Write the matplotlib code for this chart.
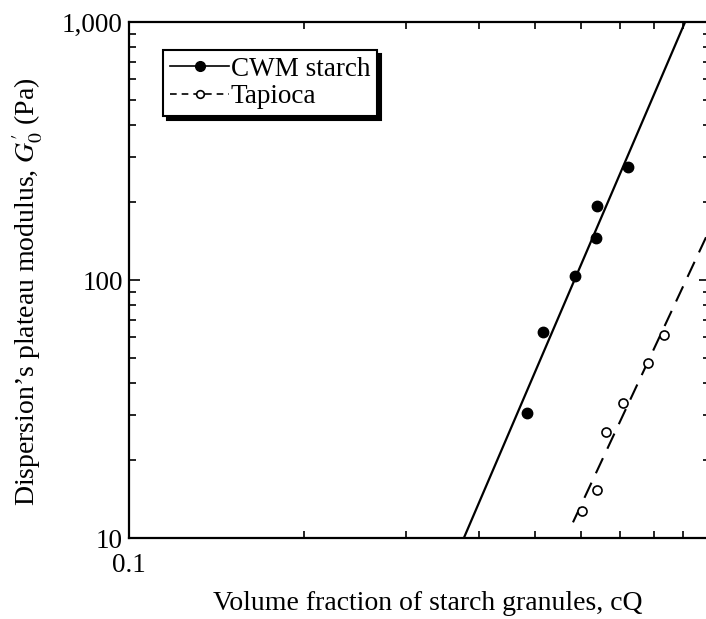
import numpy as np
import matplotlib
matplotlib.use("Agg")
import matplotlib.pyplot as plt
from matplotlib.ticker import FixedLocator, FixedFormatter, LogLocator, NullFormatter

plt.rcParams['font.family'] = ['Liberation Serif', 'DejaVu Serif']
plt.rcParams['mathtext.fontset'] = 'stix'

# Data
cwm_x = [0.484, 0.516, 0.586, 0.637, 0.638, 0.723]
cwm_y = [30.5, 62.9, 103.6, 145, 193.6, 274]
tap_x = [0.602, 0.638, 0.662, 0.708, 0.782, 0.833]
tap_y = [12.7, 15.3, 25.8, 33.4, 47.7, 61.2]

# fitted power-law lines (end points)
cwm_fit_x = [0.377, 0.906]
cwm_fit_y = [10, 1000]
tap_fit_x = [0.581, 1.0]
tap_fit_y = [11.5, 158]

fig = plt.figure(figsize=(7.06, 6.19), dpi=100)
W, H = 706, 619
ax = fig.add_axes([129 / W, 1 - 538 / H, 581 / W, 516 / H])

ax.plot(cwm_fit_x, cwm_fit_y, color='black', lw=1.6)
ax.plot(tap_fit_x, tap_fit_y, color='black', lw=1.5, linestyle=(0, (8, 5)))
ax.plot(cwm_x, cwm_y, 'o', color='black', ms=7.5)
ax.plot(tap_x, tap_y, 'o', mfc='white', mec='black', mew=1.2, ms=6.5)

# legend proxies
h1, = ax.plot([], [], '-o', color='black', lw=1.2, ms=7)
h2, = ax.plot([], [], linestyle=(0, (4, 3)), marker='o', color='black',
              mfc='white', mew=1.2, lw=1.2, ms=5.5)
leg = ax.legend([h1, h2], ['CWM starch', 'Tapioca'], loc='upper left',
                bbox_to_anchor=(0.0585, 0.946), borderaxespad=0,
                fontsize=19.5, frameon=True, fancybox=False,
                shadow={'color': 'black', 'alpha': 1, 'ox': 3, 'oy': -3},
                handlelength=2.2, handletextpad=0.05, borderpad=0.25,
                labelspacing=0.1)
leg.get_frame().set_edgecolor('black')
leg.get_frame().set_linewidth(1.5)

ax.set_xscale('log')
ax.set_yscale('log')
ax.set_xlim(0.1, 1.0)
ax.set_ylim(10, 1000)

ax.xaxis.set_major_locator(FixedLocator([0.1, 1.0]))
ax.xaxis.set_major_formatter(FixedFormatter(['0.1', '']))
ax.xaxis.set_minor_locator(LogLocator(base=10, subs=np.arange(2, 10)))
ax.xaxis.set_minor_formatter(NullFormatter())
ax.yaxis.set_major_locator(FixedLocator([10, 100, 1000]))
ax.yaxis.set_major_formatter(FixedFormatter(['10', '100', '1,000']))
ax.yaxis.set_minor_locator(LogLocator(base=10, subs=np.arange(2, 10)))
ax.yaxis.set_minor_formatter(NullFormatter())

ax.tick_params(which='both', direction='in', top=True, right=True,
               labelsize=19.5, width=1.2)
ax.tick_params(which='major', length=8)
ax.tick_params(which='minor', length=5)
ax.tick_params(axis='y', which='major', pad=4.5)
ax.tick_params(axis='x', which='major', pad=11)
for s in ax.spines.values():
    s.set_linewidth(1.6)

ax.set_xlabel('Volume fraction of starch granules, cQ', fontsize=20)
ax.set_ylabel("Dispersion\u2019s plateau modulus, $G_0'$ (Pa)", fontsize=20)
ax.xaxis.set_label_coords(0.515, -0.103)
ax.yaxis.set_label_coords(-0.145, 0.477)

plt.savefig('out.png', dpi=100)
